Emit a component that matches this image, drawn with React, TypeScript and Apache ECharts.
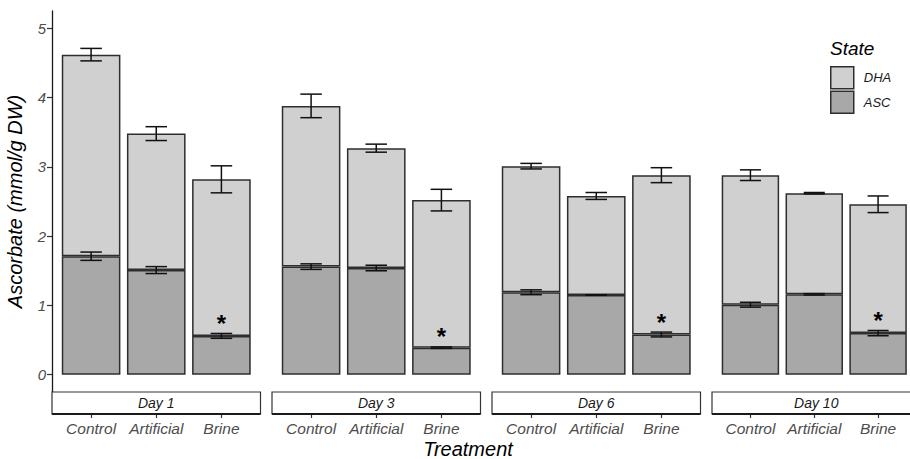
import React, { useEffect, useRef } from "react";
import * as echarts from "echarts";

const days = ["Day 1", "Day 3", "Day 6", "Day 10"];
const treatments = ["Control", "Artificial", "Brine"];
const ascMean = [
  [1.71, 1.51, 0.56],
  [1.56, 1.54, 0.39],
  [1.19, 1.15, 0.58],
  [1.01, 1.16, 0.6],
];
const ascErr = [
  [0.06, 0.05, 0.035],
  [0.04, 0.04, 0.01],
  [0.035, 0.004, 0.035],
  [0.035, 0.01, 0.038],
];
const dhaMean = [
  [2.91, 1.97, 2.26],
  [2.32, 1.73, 2.13],
  [1.82, 1.43, 2.3],
  [1.87, 1.46, 1.86],
];
const totalErr = [
  [0.09, 0.1, 0.195],
  [0.17, 0.058, 0.156],
  [0.04, 0.05, 0.108],
  [0.077, 0.01, 0.12],
];
const significant = [
  [false, false, true],
  [false, false, true],
  [false, false, true],
  [false, false, true],
];
const yTicks = [0, 1, 2, 3, 4, 5];

const FONT = "Liberation Sans, Arial, sans-serif";
const DHA_COLOR = "#d0d0d0";
const ASC_COLOR = "#a8a8a8";
const EDGE = "#2e2e2e";

export default function App() {
  const ref = useRef<HTMLDivElement>(null);
  useEffect(() => {
    if (!ref.current) return;
    const chart = echarts.init(ref.current, null, { renderer: "svg" });

    const panelLefts = [52, 272, 492, 712];
    const panelW = 208.5;
    const band = panelW / 3.2;
    const gridTop = 11;
    const gridBottomY = 392;
    const gridH = gridBottomY - gridTop;
    const stripH = 22;

    const grids: any[] = [];
    const xAxes: any[] = [];
    const yAxes: any[] = [];
    const series: any[] = [];
    const graphics: any[] = [];

    days.forEach((day, d) => {
      const pl = panelLefts[d];
      grids.push({
        left: pl + 0.1 * band,
        top: gridTop,
        width: 3 * band,
        height: gridH,
        containLabel: false,
      });
      xAxes.push({
        type: "category",
        gridIndex: d,
        data: treatments,
        offset: stripH,
        axisLine: { show: false, onZero: false },
        axisTick: {
          show: true,
          alignWithLabel: true,
          length: 4,
          lineStyle: { color: "#333", width: 1.2 },
        },
        axisLabel: {
          interval: 0,
          margin: 6,
          fontSize: 15.5,
          fontStyle: "italic",
          fontFamily: FONT,
          color: "#4d4d4d",
        },
        splitLine: { show: false },
      });
      yAxes.push({
        type: "value",
        gridIndex: d,
        min: -0.25,
        max: 5.25,
        show: d === 0,
        offset: 0.1 * band,
        name: d === 0 ? "Ascorbate (mmol/g DW)" : "",
        nameLocation: "middle",
        nameRotate: 90,
        nameGap: 27,
        nameTextStyle: {
          fontSize: 20,
          fontStyle: "italic",
          fontFamily: FONT,
          color: "#000",
        },
        axisLine: { show: true, onZero: false, lineStyle: { color: "#1a1a1a", width: 1.3 } },
        axisTick: {
          show: true,
          length: 5,
          customValues: yTicks,
          lineStyle: { color: "#333", width: 1.2 },
        },
        axisLabel: {
          customValues: yTicks,
          margin: 6,
          fontSize: 15,
          fontStyle: "italic",
          fontFamily: FONT,
          color: "#4d4d4d",
        },
        splitLine: { show: false },
      });

      series.push({
        name: "ASC",
        type: "bar",
        xAxisIndex: d,
        yAxisIndex: d,
        stack: "s" + d,
        barWidth: "90%",
        data: ascMean[d],
        itemStyle: { color: ASC_COLOR, borderColor: EDGE, borderWidth: 1.5 },
        z: 2,
      });
      series.push({
        name: "DHA",
        type: "bar",
        xAxisIndex: d,
        yAxisIndex: d,
        stack: "s" + d,
        barWidth: "90%",
        data: dhaMean[d],
        itemStyle: { color: DHA_COLOR, borderColor: EDGE, borderWidth: 1.5 },
        z: 2,
      });

      const errData: number[][] = [];
      treatments.forEach((_, i) => {
        const a = ascMean[d][i];
        const t = a + dhaMean[d][i];
        errData.push([i, a - ascErr[d][i], a + ascErr[d][i]]);
        errData.push([i, t - totalErr[d][i], t + totalErr[d][i]]);
      });
      series.push({
        type: "custom",
        name: "err" + d,
        xAxisIndex: d,
        yAxisIndex: d,
        z: 5,
        silent: true,
        encode: { x: 0, y: [1, 2] },
        data: errData,
        renderItem: (params: any, api: any) => {
          const x = api.value(0);
          const lo = api.coord([x, api.value(1)]);
          const hi = api.coord([x, api.value(2)]);
          const half = api.size([1, 0])[0] * 0.165;
          const style = { stroke: "#111", lineWidth: 1.5, fill: "none" };
          return {
            type: "group",
            children: [
              { type: "line", shape: { x1: lo[0], y1: lo[1], x2: hi[0], y2: hi[1] }, style },
              { type: "line", shape: { x1: lo[0] - half, y1: lo[1], x2: lo[0] + half, y2: lo[1] }, style },
              { type: "line", shape: { x1: hi[0] - half, y1: hi[1], x2: hi[0] + half, y2: hi[1] }, style },
            ],
          };
        },
      });

      const starData: number[][] = [];
      treatments.forEach((_, i) => {
        if (significant[d][i]) starData.push([i, ascMean[d][i] + ascErr[d][i]]);
      });
      series.push({
        type: "custom",
        name: "star" + d,
        xAxisIndex: d,
        yAxisIndex: d,
        z: 6,
        silent: true,
        encode: { x: 0, y: 1 },
        data: starData,
        renderItem: (params: any, api: any) => {
          const p = api.coord([api.value(0), api.value(1)]);
          return {
            type: "text",
            x: p[0],
            y: p[1] + 2,
            style: {
              text: "*",
              fontSize: 24,
              fontWeight: "bold",
              fontFamily: FONT,
              fill: "#000",
              align: "center",
              verticalAlign: "bottom",
            },
          };
        },
      });

      graphics.push({
        type: "rect",
        shape: { x: pl, y: gridBottomY, width: panelW, height: stripH },
        style: { fill: "#fff", stroke: "#333", lineWidth: 1.2 },
        z: 10,
      });
      graphics.push({
        type: "line",
        shape: { x1: pl, y1: gridBottomY + stripH, x2: pl + panelW, y2: gridBottomY + stripH },
        style: { stroke: "#1a1a1a", lineWidth: 1.8 },
        z: 11,
      });
      graphics.push({
        type: "text",
        x: pl + panelW / 2,
        y: gridBottomY + stripH / 2,
        style: {
          text: day,
          fontSize: 14,
          fontStyle: "italic",
          fontFamily: FONT,
          fill: "#1a1a1a",
          align: "center",
          verticalAlign: "middle",
        },
        z: 12,
      });
    });

    graphics.push({
      type: "text",
      x: 468,
      y: 449,
      style: {
        text: "Treatment",
        fontSize: 20,
        fontStyle: "italic",
        fontFamily: FONT,
        fill: "#000",
        align: "center",
        verticalAlign: "middle",
      },
    });
    graphics.push({
      type: "text",
      x: 830,
      y: 48,
      style: {
        text: "State",
        fontSize: 19,
        fontStyle: "italic",
        fontFamily: FONT,
        fill: "#000",
        align: "left",
        verticalAlign: "middle",
      },
    });

    chart.setOption({
      animation: false,
      backgroundColor: "#fff",
      grid: grids,
      xAxis: xAxes,
      yAxis: yAxes,
      series,
      legend: {
        data: ["DHA", "ASC"],
        orient: "vertical",
        left: 830,
        top: 66,
        padding: 0,
        itemWidth: 23,
        itemHeight: 22,
        itemGap: 1,
        icon: "rect",
        selectedMode: false,
        itemStyle: { borderColor: EDGE, borderWidth: 1.5 },
        textStyle: {
          fontSize: 13,
          fontStyle: "italic",
          fontFamily: FONT,
          color: "#1a1a1a",
          padding: [0, 0, 0, 5],
        },
      },
      graphic: graphics,
    });
    return () => chart.dispose();
  }, []);
  return (
    <div
      ref={ref}
      style={{ position: "fixed", left: 0, top: 0, width: 910, height: 459 }}
    />
  );
}
